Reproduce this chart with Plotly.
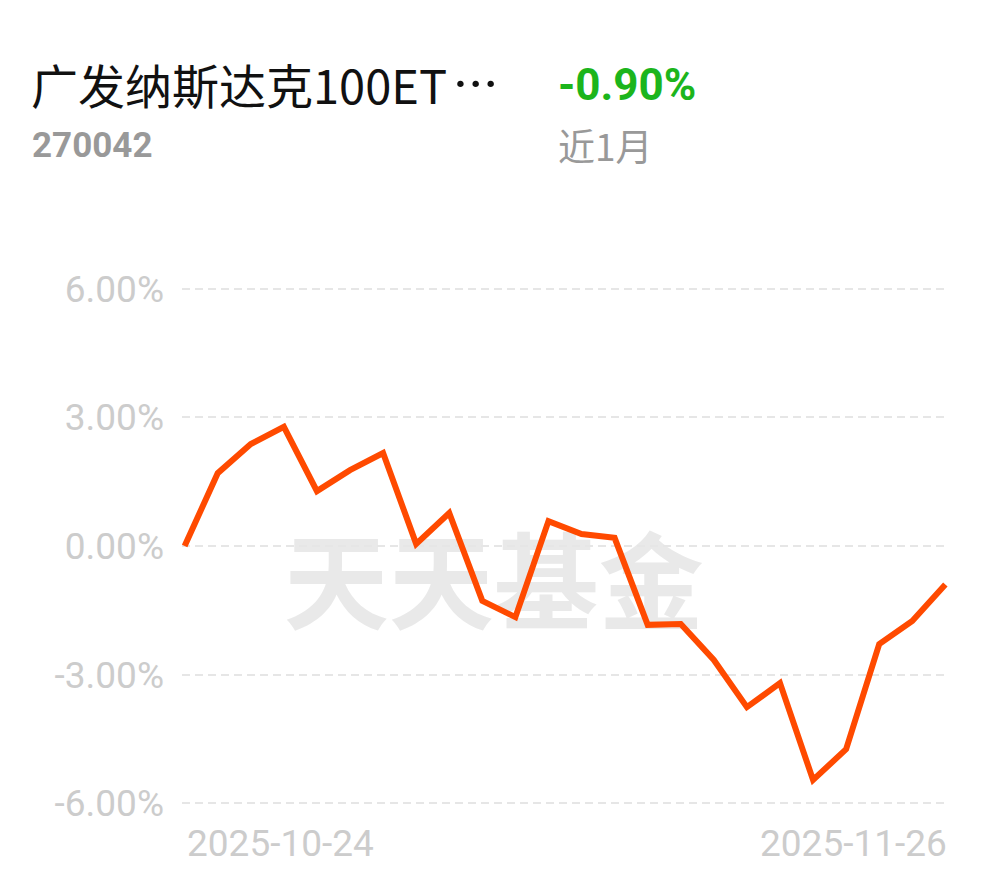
import plotly.graph_objects as go

dates = ["2025-10-24", "2025-10-27", "2025-10-28", "2025-10-29", "2025-10-30", "2025-10-31",
         "2025-11-03", "2025-11-04", "2025-11-05", "2025-11-06", "2025-11-07",
         "2025-11-10", "2025-11-11", "2025-11-12", "2025-11-13", "2025-11-14",
         "2025-11-17", "2025-11-18", "2025-11-19", "2025-11-20", "2025-11-21",
         "2025-11-24", "2025-11-25", "2025-11-26"]
returns = [0.00, 1.70, 2.38, 2.78, 1.28, 1.77, 2.17, 0.05, 0.77, -1.28, -1.66,
           0.58, 0.28, 0.19, -1.84, -1.82, -2.66, -3.76, -3.20, -5.46, -4.74,
           -2.29, -1.75, -0.90]
y_ticks = [-6, -3, 0, 3, 6]
y_tick_labels = ["-6.00%", "-3.00%", "0.00%", "3.00%", "6.00%"]

fund_name = "广发纳斯达克100ET"
fund_name_ellipsis = "···"
fund_code = "270042"
period_return = "-0.90%"
period_label = "近1月"
watermark = "天天基金"

W, H = 982, 870
L, R, T, B = 174, 42, 268, 62
PW, PH = W - L - R, H - T - B

n = len(dates)
fig = go.Figure()
fig.add_trace(go.Scatter(
    x=list(range(n)), y=returns, mode="lines",
    line=dict(color="#ff4a00", width=6),
    hoverinfo="skip", showlegend=False,
))

pad = 0.08
fig.update_layout(
    width=W, height=H,
    paper_bgcolor="white", plot_bgcolor="white",
    margin=dict(l=L, r=R, t=T, b=B),
    xaxis=dict(range=[-pad, n - 1 + pad], showgrid=False, zeroline=False,
               showticklabels=False, showline=False, fixedrange=True),
    yaxis=dict(range=[-6.3, 6.3], tickvals=y_ticks, ticktext=y_tick_labels,
               showgrid=True, gridcolor="#e6e6e6", griddash="8px,5px", gridwidth=2,
               zeroline=False, showline=False, ticks="", ticklabelstandoff=17,
               tickfont=dict(family="Roboto", size=37, color="#cccccc")),
    font=dict(family="Roboto"),
    shapes=[dict(type="rect", xref="paper", yref="paper", x0=0.107, x1=0.707,
                 y0=0.294, y1=0.534, line=dict(width=0), fillcolor="rgba(0,0,0,0)",
                 layer="between",
                 label=dict(text="<b>" + watermark + "</b>", textposition="middle center",
                            font=dict(family="Noto Sans CJK SC", size=105, color="#e9e9e9")))],
)

title_text = (fund_name + '<span style="font-family:Roboto;font-size:58px">\u200a'
              + fund_name_ellipsis + '</span>')
annotations = [
    dict(text=title_text, x=21, y=75, font=dict(family="Noto Sans CJK SC", size=47, color="#111111")),
    dict(text="<b>" + period_return + "</b>", x=548, y=77.5,
         font=dict(family="Roboto", size=44, color="#1cb51c")),
    dict(text="<b>" + fund_code + "</b>", x=22, y=137.5,
         font=dict(family="Roboto", size=35, color="#999999")),
    dict(text=period_label, x=548, y=136.5,
         font=dict(family="Noto Sans CJK SC", size=37, color="#999999")),
]
for a in annotations:
    fig.add_annotation(xref="paper", yref="paper", x=(a["x"] - L) / PW,
                       y=1 + (T - a["y"]) / PH, text=a["text"], font=a["font"],
                       xanchor="left", yanchor="middle", showarrow=False)

fig.add_annotation(x=0, y=0, xref="x", yref="paper", yshift=-27, text=dates[0], showarrow=False,
                   xanchor="left", yanchor="middle",
                   font=dict(family="Roboto", size=37, color="#cccccc"))
fig.add_annotation(x=n - 1, y=0, xref="x", yref="paper", yshift=-27, xshift=4, text=dates[-1],
                   showarrow=False, xanchor="right", yanchor="middle",
                   font=dict(family="Roboto", size=37, color="#cccccc"))

fig.write_html("out.html")
